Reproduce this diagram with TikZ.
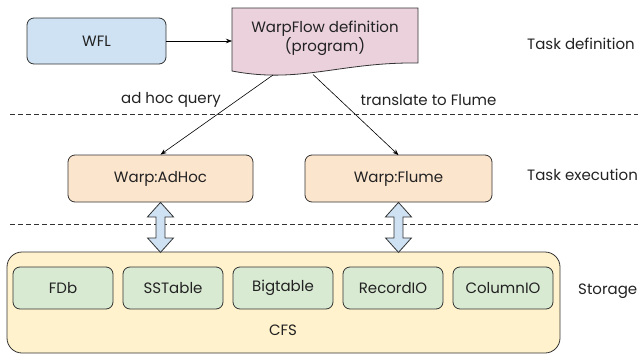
\documentclass[tikz,border=0pt]{standalone}
\usepackage{fontspec}
\setmainfont{Poppins}
\usetikzlibrary{arrows.meta,calc}
\definecolor{cblue}{HTML}{CFE2F3}
\definecolor{cpink}{HTML}{EAD1DC}
\definecolor{corange}{HTML}{FCE5CD}
\definecolor{cyellow}{HTML}{FFF2CC}
\definecolor{cgreen}{HTML}{D9EAD3}
\definecolor{cline}{HTML}{333333}
\definecolor{ctext}{HTML}{222222}
\begin{document}
\begin{tikzpicture}[x=1pt,y=-1pt,
  font=\fontsize{15}{17}\selectfont, text=ctext,
  box/.style={draw=cline, line width=0.8pt, rounded corners=7pt, inner sep=0pt},
  lbl/.style={inner sep=0pt, anchor=west},
  conn/.style={draw=black, line width=0.6pt, -{Stealth[length=6pt,width=4.5pt]}},
  sep/.style={draw=cline, line width=0.6pt, dash pattern=on 5pt off 3pt},
  dbl/.style={draw=cline, line width=0.8pt, fill=cblue, line join=miter}]
\useasboundingbox (0,0) rectangle (638,354);
% storage container
\node[box, fill=cyellow, rounded corners=15pt, minimum width=553pt, minimum height=101pt] (cfs) at (283.5,302.5) {};
\node[inner sep=0pt] (cfslbl) at (283,330) {CFS};
% inner storage boxes
\foreach \n/\t/\x in {fdb/FDb/63, sst/SSTable/173, bt/Bigtable/283, rio/RecordIO/393, cio/ColumnIO/503}{
  \node[box, fill=cgreen, minimum width=100pt, minimum height=42pt] (\n) at (\x,288) {\t};
}
% top row
\node[box, fill=cblue, minimum width=139pt, minimum height=46pt] (wfl) at (96.5,41) {WFL};
\draw[draw=cline, line width=0.8pt, fill=cpink]
  (232,8) -- (418,8) -- (418,63) .. controls (340,62) and (300,84) .. (232,71) -- cycle;
\coordinate (docL) at (273,75);
\coordinate (docR) at (313,74.5);
\coordinate (docW) at (232,41);
\node[inner sep=0pt, align=center, font=\fontsize{15}{19}\selectfont] (doc) at (325,38) {WarpFlow definition\\(program)};
% execution row
\node[box, fill=corange, minimum width=185pt, minimum height=47pt] (adhoc) at (160.5,178.5) {Warp:AdHoc};
\node[box, fill=corange, minimum width=187pt, minimum height=47pt] (flume) at (398.5,178.5) {Warp:Flume};
% connectors
\draw[conn] (wfl.east) -- (docW);
\draw[conn] (docL) -- (adhoc.north);
\draw[conn] (docR) -- ($(flume.north)+(0,0.5)$);
\node[inner sep=0pt] (q1) at (171,100) {ad hoc query};
\node[inner sep=0pt] (q2) at (428.5,100) {translate to Flume};
% separators
\coordinate (s1a) at (10,114); \coordinate (s1b) at (638,114);
\coordinate (s2a) at (10,224); \coordinate (s2b) at (638,224);
\draw[sep] (s1a) -- (s1b);
\draw[sep] (s2a) -- (s2b);
% double arrows
\foreach \src in {adhoc, flume}{
  \draw[dbl, shift={(\src.south)}]
    (0,0) -- (13,14.5) -- (4.5,14.5) -- (4.5,35.5) -- (13,35.5) -- (0,50)
    -- (-13,35.5) -- (-4.5,35.5) -- (-4.5,14.5) -- (-13,14.5) -- cycle;
}
% layer labels
\node[lbl] (l1) at (527,44) {Task definition};
\node[lbl] (l2) at (527,175) {Task execution};
\node[lbl] (l3) at (578,291) {Storage};
\end{tikzpicture}
\end{document}
